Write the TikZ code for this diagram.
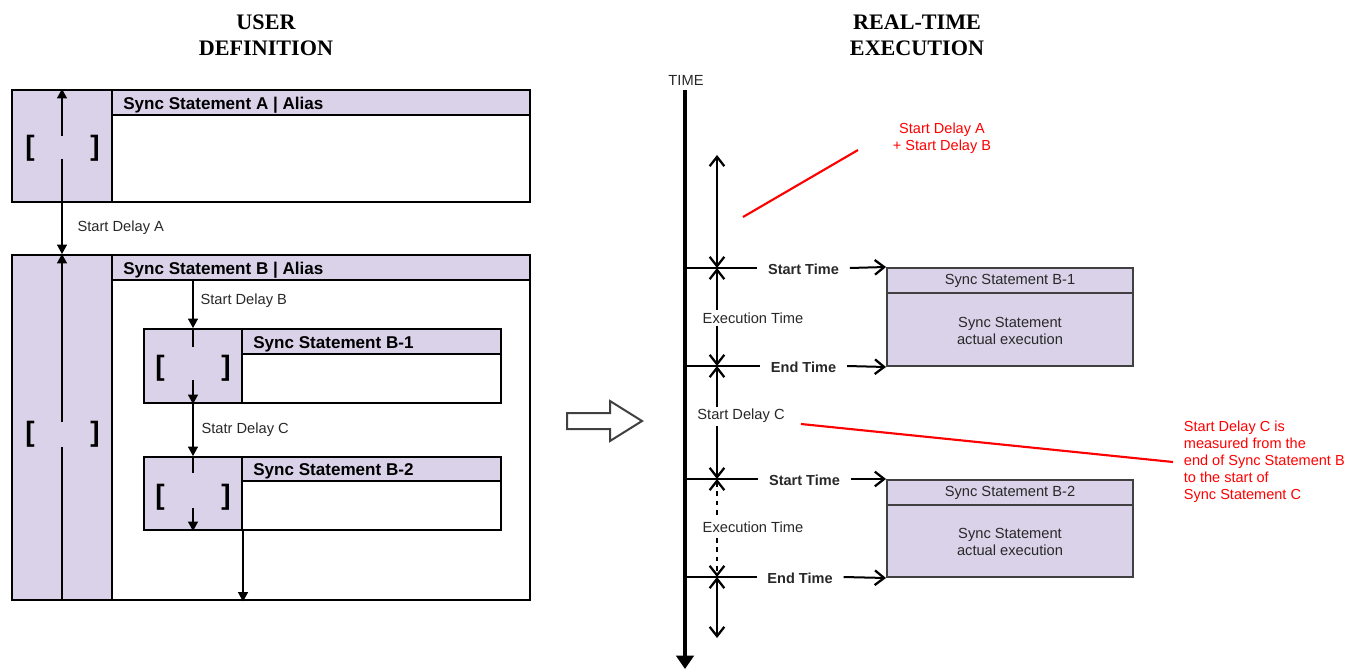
\documentclass[tikz,border=0pt]{standalone}
\usepackage{fontspec}
\setmainfont{Liberation Sans}
\newfontfamily\titlefont{Liberation Serif}
\usetikzlibrary{arrows.meta,fit}
\definecolor{lav}{RGB}{217,210,233}
\definecolor{ink}{RGB}{40,40,40}
\definecolor{edgegray}{RGB}{64,64,64}
\definecolor{redline}{RGB}{255,0,0}
\begin{document}
\begin{tikzpicture}[x=0.75pt,y=-0.75pt,
  colfill/.style={fill=lav,draw=black,line width=1.5pt,inner sep=0pt},
  thickbox/.style={draw=black,line width=2.2pt,inner sep=0pt},
  thinbox/.style={draw=black,line width=1.5pt,inner sep=0pt},
  hdrtext/.style={font=\bfseries\fontsize{12.8}{14}\selectfont,anchor=base west,inner sep=0pt,xshift=9pt,yshift=-5pt},
  brk/.style={font=\bfseries\fontsize{21}{21}\selectfont,inner sep=0pt},
  body/.style={font=\fontsize{11}{12.75}\selectfont,text=ink,inner sep=1pt},
  title/.style={font=\titlefont\bfseries\fontsize{16.6}{19.5}\selectfont,align=center},
  larrow/.style={-{Triangle[length=7pt,width=7.5pt]},line width=0.8pt},
  lline/.style={line width=0.8pt},
  axis/.style={line width=3.3pt,-{Triangle[length=10pt,width=13pt]}},
  hline/.style={line width=1.5pt},
  harrow/.style={line width=1.5pt,-{Straight Barb[length=7pt,width=11pt,line width=1.7pt]}},
  dblarrow/.style={line width=1.5pt,{Straight Barb[length=7pt,width=11pt,line width=1.7pt]}-{Straight Barb[length=7pt,width=11pt,line width=1.7pt]}},
  tlbl/.style={font=\bfseries\fontsize{10.9}{12}\selectfont,text=ink,inner xsep=8pt,inner ysep=0pt},
  wlbl/.style={body,fill=white,inner sep=2pt},
  rbox/.style={fill=lav,draw=edgegray,line width=1.5pt,inner sep=0pt},
  rednote/.style={font=\fontsize{10.9}{12.75}\selectfont,text=redline},
  redl/.style={draw=redline,line width=1.6pt}
]
\useasboundingbox (0,0) rectangle (1351,670);

% titles
\node[title] (t1) at (266,35) {USER\\DEFINITION};
\node[title] (t2) at (917,35) {REAL-TIME\\EXECUTION};

% ---------- Block A ----------
\node[colfill,fit={(12,90)(112,202)}] (Acol) {};
\node[colfill,fit={(112,90)(530,115)}] (Ahdr) {};
\node[thickbox,fit={(12,90)(530,202)}] (A) {};
\node[hdrtext] (Atxt) at (Ahdr.west) {Sync Statement A | Alias};
\node[brk] (Al) at (30,148) {[};
\node[brk] (Ar) at (95,148) {]};
\coordinate (Aup) at (62,136);
\coordinate (Adn) at (62,159);

% ---------- Block B ----------
\node[colfill,fit={(12,255)(112,600)}] (Bcol) {};
\node[colfill,fit={(112,255)(530,280)}] (Bhdr) {};
\node[thickbox,fit={(12,255)(530,600)}] (B) {};
\node[hdrtext] (Btxt) at (Bhdr.west) {Sync Statement B | Alias};
\node[brk] (Bl) at (30,434) {[};
\node[brk] (Br) at (95,434) {]};
\coordinate (Bup) at (62,422);
\coordinate (Bdn) at (62,447);

\draw[larrow] (Aup) -- (Acol.north);
\draw[larrow] (Adn) -- (Bcol.north);
\node[body,anchor=west] (sda) at (76,228) {Start Delay A};
\draw[larrow] (Bup) -- (Bcol.north);
\draw[lline] (Bdn) -- (Bcol.south);

% ---------- Block B-1 ----------
\node[colfill,fit={(144,329)(242,403)}] (B1col) {};
\node[colfill,fit={(242,329)(501,354)}] (B1hdr) {};
\node[thinbox,fit={(144,329)(501,403)}] (B1) {};
\node[hdrtext] (B1txt) at (B1hdr.west) {Sync Statement B-1};
\node[brk] (B1l) at (160,368) {[};
\node[brk] (B1r) at (226,368) {]};
\coordinate (B1s) at (193,347);
\coordinate (B1a) at (193,380);

% ---------- Block B-2 ----------
\node[colfill,fit={(144,457)(242,530)}] (B2col) {};
\node[colfill,fit={(242,457)(501,481)}] (B2hdr) {};
\node[thinbox,fit={(144,457)(501,530)}] (B2) {};
\node[hdrtext] (B2txt) at (B2hdr.west) {Sync Statement B-2};
\node[brk] (B2l) at (160,497) {[};
\node[brk] (B2r) at (226,497) {]};
\coordinate (B2s) at (193,473);
\coordinate (B2a) at (193,508);

\draw[larrow] (B1col.north |- Bhdr.south) -- (B1col.north);
\node[body,anchor=west] (sdb) at (199,301) {Start Delay B};
\draw[lline] (B1col.north) -- (B1s);
\draw[larrow] (B1a) -- (B1col.south);
\draw[larrow] (B1col.south) -- (B2col.north);
\node[body,anchor=west] (sdc) at (200,430) {Statr Delay C};
\draw[lline] (B2col.north) -- (B2s);
\draw[larrow] (B2a) -- (B2col.south);
\draw[larrow] (B2col.south east) -- (B2col.south east |- B.south);

% ---------- hollow arrow ----------
\draw[line width=1.5pt,draw=edgegray,fill=white,line join=miter]
  (567,413) -- (610,413) -- (610,401) -- (642,421) -- (610,441) -- (610,429) -- (567,429) -- cycle;

% ---------- timeline ----------
\node[body] (time) at (686,80) {TIME};
\coordinate (ax0) at (685,90);
\coordinate (ax1) at (685,669);
\draw[axis] (ax0) -- (ax1);

% right boxes
\node[rbox,fit={(887,268)(1133,366)}] (R1) {};
\node[rbox,fit={(887,268)(1133,293)}] (R1h) {};
\node[body] (R1t) at (R1h.center) {Sync Statement B-1};
\node[body,align=center] (R1b) at (1010,331) {Sync Statement\\actual execution};

\node[rbox,fit={(887,480)(1133,577)}] (R2) {};
\node[rbox,fit={(887,480)(1133,505)}] (R2h) {};
\node[body] (R2t) at (R2h.center) {Sync Statement B-2};
\node[body,align=center] (R2b) at (1010,542) {Sync Statement\\actual execution};

% horizontal markers
\coordinate (h1) at (685,268);
\coordinate (h2) at (685,366);
\coordinate (h3) at (685,479);
\coordinate (h4) at (685,577);
\node[tlbl] (st1) at (803.5,269) {Start Time};
\node[tlbl] (et1) at (803.5,367) {End Time};
\node[tlbl] (st2) at (804.5,480) {Start Time};
\node[tlbl] (et2) at (800,578) {End Time};
\draw[hline] (h1) -- (h1 -| st1.west);
\draw[harrow] (st1.east |- h1) -- (R1.north west);
\draw[hline] (h2) -- (h2 -| et1.west);
\draw[harrow] (et1.east |- h2) -- (R1.south west);
\draw[hline] (h3) -- (h3 -| st2.west);
\draw[harrow] (st2.east |- h3) -- (R2.north west);
\draw[hline] (h4) -- (h4 -| et2.west);
\draw[harrow] (et2.east |- h4) -- (R2.south west);

% vertical double arrows
\coordinate (v0) at (717,155);
\coordinate (v1) at (717,268);
\coordinate (v2) at (717,366);
\coordinate (v3) at (717,479);
\coordinate (v4) at (717,577);
\coordinate (v5) at (717,638);
\draw[dblarrow] (v0) -- (v1);
\draw[dblarrow] (v1) -- (v2);
\draw[dblarrow] (v2) -- (v3);
\draw[dblarrow,dash pattern=on 3.5pt off 3.5pt] (v3) -- (v4);
\draw[dblarrow] (v4) -- (v5);
\node[wlbl] (ex1) at (753,318) {Execution Time};
\node[wlbl] (sdc2) at (741,416) {Start Delay C};
\node[wlbl] (ex2) at (753,527) {Execution Time};

% red notes
\node[rednote,align=center] (n1) at (942,138) {Start Delay A\\+ Start Delay B};
\coordinate (r1a) at (743,217);
\coordinate (r1b) at (858,150);
\draw[redl] (r1a) -- (r1b);
\node[rednote,align=left,anchor=west,inner sep=0pt,inner xsep=8pt] (n2) at (1173,462)
  {Start Delay C is\\measured from the\\end of Sync Statement B\\to the start of\\Sync Statement C};
\coordinate (r2a) at (801,424);
\draw[redl] (r2a) -- (n2.west);
\end{tikzpicture}
\end{document}
